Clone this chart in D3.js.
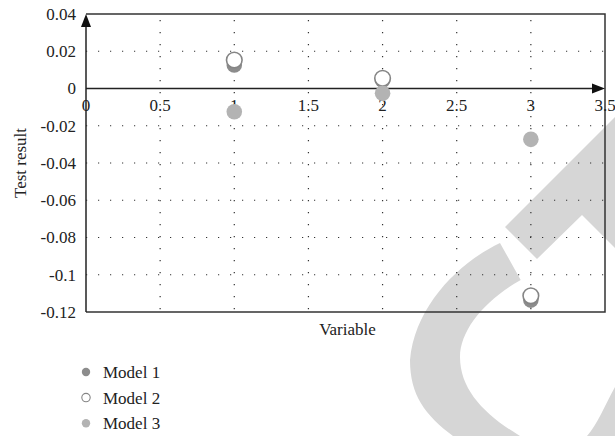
<!DOCTYPE html>
<html>
<head>
<meta charset="utf-8">
<script src="https://cdnjs.cloudflare.com/ajax/libs/d3/7.8.5/d3.min.js"></script>
<style>
  body { margin: 0; background: #fff; }
  text { font-family: "Liberation Serif", "DejaVu Serif", serif; fill: #222; font-size: 17px; }
</style>
</head>
<body>
<div id="chart"></div>
<script>
// data
var xValues = [1, 2, 3];
var model1 = [0.0126, 0.0045, -0.1136];
var model2 = [0.0153, 0.0055, -0.1113];
var model3 = [-0.0125, -0.0026, -0.0273];
var seriesNames = ["Model 1", "Model 2", "Model 3"];
var xTicks = [0, 0.5, 1, 1.5, 2, 2.5, 3, 3.5];
var yTicks = [0.04, 0.02, 0, -0.02, -0.04, -0.06, -0.08, -0.1, -0.12];

var W = 615, H = 436;
var margin = {top: 14, left: 86, right: 10, bottom: 124};
var width = W - margin.left - margin.right;
var height = H - margin.top - margin.bottom;

var svg = d3.select("#chart").append("svg")
    .attr("width", W).attr("height", H);

// faint watermark in the background
var wm = svg.append("g").attr("fill", "#d6d6d6");
wm.append("path")
    .attr("d", "M500,243 C460,262 415,305 410,360 C410,395 425,415 453,436 L470,450 L660,450 L660,360 " +
               "L640,370 L615,387 C605,405 597,425 587,436 C575,452 535,452 520,436 " +
               "C485,415 460,390 460,357 C460,330 485,300 520.7,280 Z");
wm.append("polygon")
    .attr("points", "505,227 630,102 630,263 582,215 537,259");

var g = svg.append("g")
    .attr("transform", "translate(" + margin.left + "," + margin.top + ")");

var x = d3.scaleLinear().domain([0, 3.5]).range([0, width]);
var y = d3.scaleLinear().domain([-0.12, 0.04]).range([height, 0]);

// dotted grid
g.append("g").selectAll("line")
    .data(yTicks.filter(function(d) { return d != 0 && d != 0.04 && d != -0.12; }))
    .enter().append("line")
    .attr("x1", 0).attr("x2", width)
    .attr("y1", function(d) { return y(d); })
    .attr("y2", function(d) { return y(d); })
    .attr("stroke", "#333").attr("stroke-width", 1.2)
    .attr("stroke-dasharray", "1.2,10.8")
    .attr("stroke-dashoffset", -12);

g.append("g").selectAll("line")
    .data(xTicks.filter(function(d) { return d != 0 && d != 3.5; }))
    .enter().append("line")
    .attr("x1", function(d) { return x(d); })
    .attr("x2", function(d) { return x(d); })
    .attr("y1", 0).attr("y2", height)
    .attr("stroke", "#333").attr("stroke-width", 1.2)
    .attr("stroke-dasharray", "1.2,10.8")
    .attr("stroke-dashoffset", -6);

// frame
g.append("path")
    .attr("d", "M0," + y(0.04) + "H" + width + "V" + height + "H0")
    .attr("fill", "none").attr("stroke", "#333").attr("stroke-width", 1.5);

// axes with arrows
g.append("line")
    .attr("x1", 0).attr("x2", 0).attr("y1", height).attr("y2", y(0.04) + 8)
    .attr("stroke", "#222").attr("stroke-width", 1.5);
g.append("path")
    .attr("d", "M0," + y(0.04) + "l-5,13h10z").attr("fill", "#111");
g.append("line")
    .attr("x1", 0).attr("x2", width - 8).attr("y1", y(0)).attr("y2", y(0))
    .attr("stroke", "#222").attr("stroke-width", 1.5);
g.append("path")
    .attr("d", "M" + width + "," + y(0) + "l-13,-5v10z").attr("fill", "#111");

// tick labels
g.append("g").selectAll("text")
    .data(yTicks).enter().append("text")
    .attr("x", -10)
    .attr("y", function(d) { return y(d); })
    .attr("dy", "0.35em")
    .attr("text-anchor", "end")
    .text(function(d) { return String(d); });

g.append("g").selectAll("text")
    .data(xTicks).enter().append("text")
    .attr("x", function(d) { return x(d); })
    .attr("y", y(0) + 22)
    .attr("text-anchor", "middle")
    .text(function(d) { return d; });

// axis titles
g.append("text")
    .attr("x", width / 2 + 2).attr("y", height + 23)
    .attr("text-anchor", "middle")
    .text("Variable");
svg.append("text")
    .attr("transform", "translate(26," + (margin.top + y(-0.04)) + ") rotate(-90)")
    .attr("text-anchor", "middle")
    .text("Test result");

// points
var styles = [
    {fill: "#8c8c8c", stroke: "none"},
    {fill: "#fff", stroke: "#858585"},
    {fill: "#b3b3b3", stroke: "none"}
];
[model1, model2, model3].forEach(function(vals, k) {
    g.append("g").selectAll("circle")
        .data(vals).enter().append("circle")
        .attr("cx", function(d, i) { return x(xValues[i]); })
        .attr("cy", function(d) { return y(d); })
        .attr("r", 7.8)
        .attr("fill", styles[k].fill)
        .attr("stroke", styles[k].stroke)
        .attr("stroke-width", 1.6);
});

// legend
var legend = svg.append("g").attr("transform", "translate(86,372)");
var item = legend.selectAll("g").data(seriesNames).enter().append("g")
    .attr("transform", function(d, i) { return "translate(0," + i * 25.6 + ")"; });
item.append("circle")
    .attr("r", 4.2)
    .attr("fill", function(d, i) { return styles[i].fill; })
    .attr("stroke", function(d, i) { return styles[i].stroke; })
    .attr("stroke-width", 1.1);
item.append("text")
    .attr("x", 17).attr("dy", "0.35em")
    .text(function(d) { return d; });
</script>
</body>
</html>
